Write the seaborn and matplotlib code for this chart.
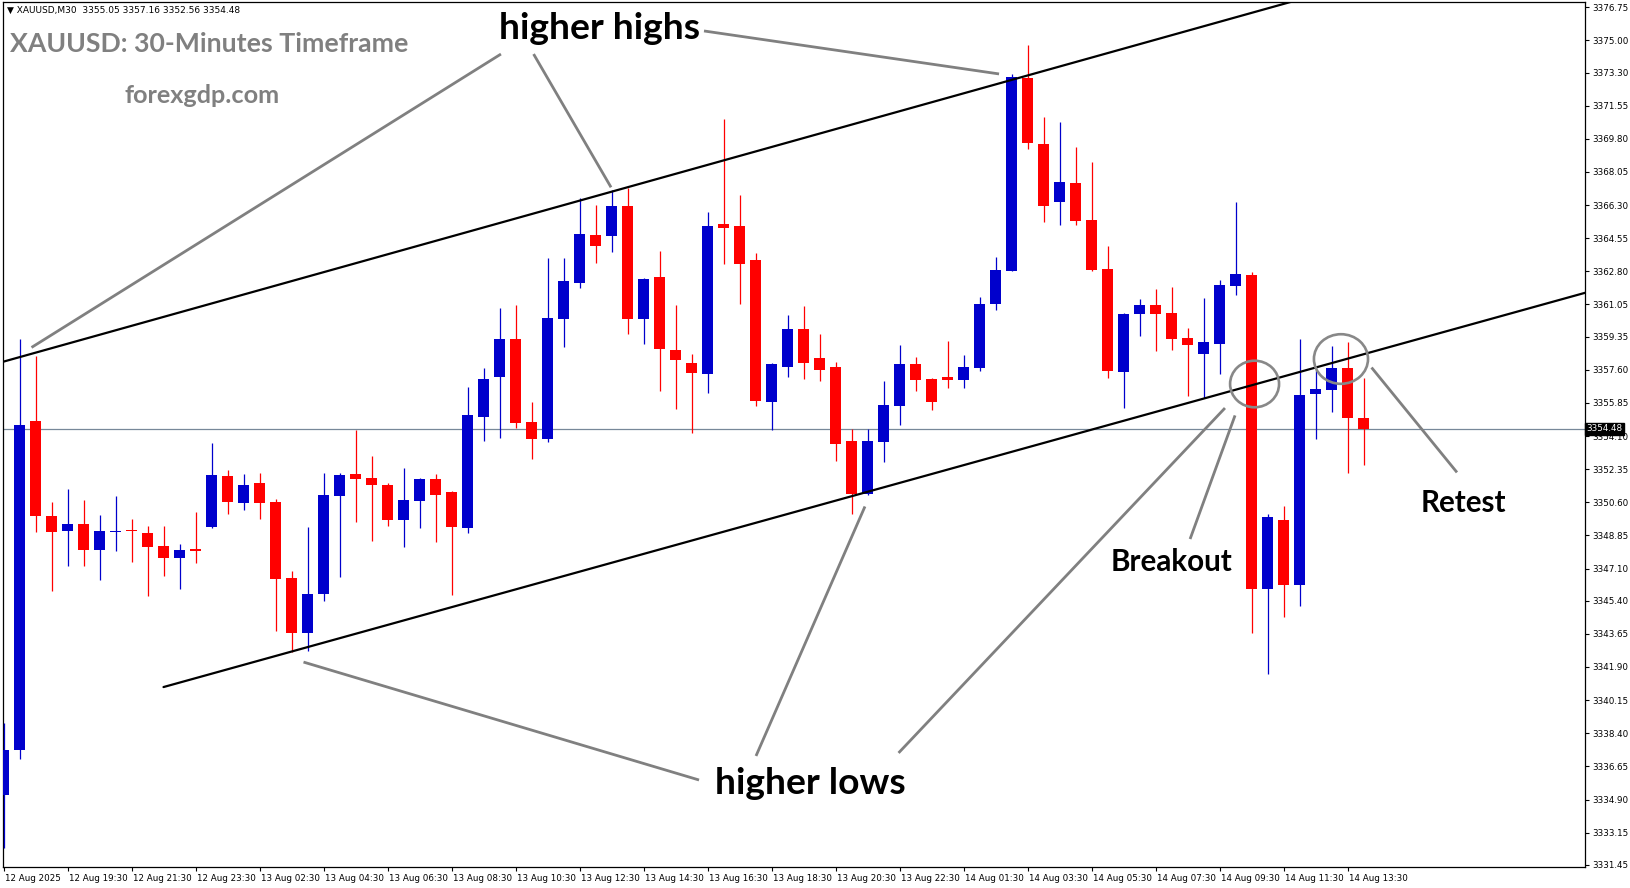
import numpy as np
import pandas as pd
import matplotlib
matplotlib.use("Agg")
import matplotlib.pyplot as plt
import matplotlib.transforms as mtransforms
from matplotlib.patches import Ellipse
import seaborn as sns

# ---------------- data (XAUUSD M30 candles) ----------------
opens = [3335.15, 3337.49, 3354.87, 3349.90, 3349.07, 3349.43, 3348.07, 3349.04, 3349.13, 3349.00,
         3348.27, 3347.64, 3348.10, 3349.32, 3351.97, 3350.55, 3351.60, 3350.64, 3346.62, 3343.68,
         3345.73, 3350.91, 3352.12, 3351.86, 3351.54, 3349.65, 3350.66, 3351.81, 3351.12, 3349.23,
         3355.10, 3357.22, 3359.21, 3354.82, 3353.94, 3360.28, 3362.19, 3364.71, 3364.67, 3366.24,
         3360.28, 3362.49, 3358.63, 3357.94, 3357.37, 3365.29, 3365.18, 3363.39, 3355.89, 3357.74,
         3359.74, 3358.20, 3357.73, 3353.82, 3351.03, 3353.78, 3355.68, 3357.90, 3357.11, 3357.20,
         3357.06, 3357.69, 3361.08, 3362.82, 3373.01, 3369.52, 3366.47, 3367.46, 3365.50, 3362.91,
         3357.48, 3360.55, 3361.01, 3360.59, 3359.28, 3358.43, 3358.96, 3362.01, 3362.59, 3346.00,
         3349.69, 3346.22, 3356.32, 3356.53, 3357.68, 3355.05]
highs = [3338.92, 3359.21, 3358.31, 3350.59, 3351.28, 3350.70, 3349.95, 3350.91, 3349.74, 3349.37,
         3349.37, 3348.42, 3350.11, 3353.71, 3352.33, 3352.12, 3352.17, 3350.80, 3346.99, 3349.32,
         3352.17, 3352.17, 3354.40, 3353.02, 3351.60, 3352.43, 3351.88, 3352.07, 3351.22, 3356.67,
         3357.68, 3360.85, 3361.01, 3355.88, 3363.49, 3363.49, 3366.65, 3366.28, 3367.09, 3367.19,
         3362.44, 3363.86, 3361.01, 3358.42, 3365.92, 3370.84, 3366.82, 3363.76, 3357.95, 3360.48,
         3360.95, 3359.48, 3358.01, 3354.47, 3354.47, 3357.00, 3358.91, 3358.27, 3357.16, 3359.10,
         3358.38, 3361.45, 3363.55, 3373.22, 3374.76, 3370.96, 3370.68, 3369.36, 3368.57, 3364.13,
         3360.60, 3361.34, 3361.87, 3361.98, 3359.81, 3361.39, 3362.33, 3366.45, 3362.75, 3349.97,
         3350.38, 3359.21, 3357.57, 3358.84, 3359.05, 3357.16]
lows = [3332.36, 3337.02, 3349.02, 3345.90, 3347.26, 3347.26, 3346.48, 3348.01, 3347.43, 3345.63,
        3346.73, 3346.00, 3347.38, 3349.23, 3349.97, 3350.18, 3349.71, 3343.78, 3342.67, 3342.73,
        3345.37, 3346.68, 3349.55, 3348.54, 3349.34, 3348.23, 3349.23, 3348.49, 3345.71, 3348.97,
        3353.83, 3353.99, 3354.52, 3352.88, 3353.78, 3358.80, 3361.92, 3363.25, 3363.83, 3359.49,
        3358.96, 3356.48, 3355.52, 3354.25, 3356.37, 3363.19, 3361.08, 3355.68, 3354.41, 3357.22,
        3357.11, 3357.00, 3352.77, 3349.97, 3350.98, 3352.72, 3354.68, 3356.48, 3355.47, 3356.63,
        3356.63, 3357.53, 3360.76, 3362.80, 3369.27, 3365.41, 3365.25, 3365.25, 3362.80, 3357.16,
        3355.58, 3359.38, 3358.59, 3358.64, 3356.21, 3356.11, 3357.37, 3361.55, 3343.68, 3341.51,
        3344.52, 3345.11, 3353.94, 3355.36, 3352.14, 3352.56]
closes = [3337.53, 3354.71, 3349.86, 3349.02, 3349.48, 3348.07, 3349.06, 3349.08, 3349.09, 3348.23,
          3347.64, 3348.10, 3348.05, 3352.02, 3350.61, 3351.49, 3350.55, 3346.53, 3343.68, 3345.78,
          3350.96, 3352.02, 3351.81, 3351.49, 3349.65, 3350.70, 3351.81, 3350.96, 3349.28, 3355.19,
          3357.09, 3359.21, 3354.78, 3353.94, 3360.32, 3362.28, 3364.76, 3364.14, 3366.24, 3360.28,
          3362.38, 3358.70, 3358.12, 3357.43, 3365.18, 3365.09, 3363.19, 3355.95, 3357.89, 3359.74,
          3357.96, 3357.58, 3353.67, 3351.03, 3353.82, 3355.72, 3357.90, 3357.06, 3355.89, 3357.06,
          3357.74, 3361.08, 3362.87, 3373.07, 3369.59, 3366.26, 3367.51, 3365.47, 3362.87, 3357.53,
          3360.53, 3361.01, 3360.55, 3359.23, 3358.91, 3359.07, 3362.06, 3362.65, 3346.00, 3349.80,
          3346.22, 3356.25, 3356.57, 3357.68, 3355.05, 3354.48]

x_tick_pos = [0, 4, 8, 12, 16, 20, 24, 28, 32, 36, 40, 44, 48, 52, 56, 60, 64, 68, 72, 76, 80, 84]
x_tick_labels = ["12 Aug 2025", "12 Aug 19:30", "12 Aug 21:30", "12 Aug 23:30", "13 Aug 02:30",
                 "13 Aug 04:30", "13 Aug 06:30", "13 Aug 08:30", "13 Aug 10:30", "13 Aug 12:30",
                 "13 Aug 14:30", "13 Aug 16:30", "13 Aug 18:30", "13 Aug 20:30", "13 Aug 22:30",
                 "14 Aug 01:30", "14 Aug 03:30", "14 Aug 05:30", "14 Aug 07:30", "14 Aug 09:30",
                 "14 Aug 11:30", "14 Aug 13:30"]
y_tick_values = [3376.75, 3375.00, 3373.30, 3371.55, 3369.80, 3368.05, 3366.30, 3364.55, 3362.80,
                 3361.05, 3359.35, 3357.60, 3355.85, 3354.10, 3352.35, 3350.60, 3348.85, 3347.10,
                 3345.40, 3343.65, 3341.90, 3340.15, 3338.40, 3336.65, 3334.90, 3333.15, 3331.45]
current_price = 3354.48
header = "XAUUSD,M30  3355.05 3357.16 3352.56 3354.48"

# channel trend lines (candle index, price)
upper_channel_x = [-0.05, 82.0]
upper_channel_y = [3358.02, 3377.40]
lower_channel_x = [10.0, 98.9]
lower_channel_y = [3340.84, 3361.68]

# annotation pointer segments: (x0, y0, x1, y1) in (candle index, price)
pointer_x0 = [31.09, 33.13, 43.78, 43.47, 47.03, 55.94, 74.16, 90.84]
pointer_y0 = [3374.28, 3374.28, 3375.50, 3335.93, 3337.20, 3337.36, 3348.66, 3352.18]
pointer_x1 = [1.75, 37.97, 62.22, 18.75, 53.84, 76.34, 76.97, 85.50]
pointer_y1 = [3358.78, 3367.24, 3373.23, 3342.16, 3350.38, 3355.58, 3355.19, 3357.72]

circle_x = [78.19, 83.59]
circle_y = [3356.85, 3358.17]
circle_w = [3.06, 3.38]
circle_h = [2.46, 2.62]

labels_text = ["higher highs", "higher lows", "Breakout", "Retest"]
labels_x = [37.28, 50.40, 73.00, 91.24]
labels_y = [3375.10, 3335.19, 3346.97, 3350.10]
labels_size = [26.8, 26.8, 21.3, 21.3]

# ---------------- styling ----------------
sns.set_theme(style="white")
plt.rcParams["font.family"] = ["DejaVu Sans"]

W, H = 1631, 888
fig = plt.figure(figsize=(W / 100, H / 100), dpi=100)
fig.patch.set_facecolor("white")
ax_l, ax_r, ax_t, ax_b = 2.7, 1585.3, 2.0, 866.7
ax = fig.add_axes([ax_l / W, 1 - ax_b / H, (ax_r - ax_l) / W, (ax_b - ax_t) / H])
ax.set_facecolor("white")

df = pd.DataFrame({"open": opens, "high": highs, "low": lows, "close": closes})
df["idx"] = np.arange(len(df))
df["up"] = df["close"] >= df["open"]
BLUE, RED = "#0000CC", "#FF0000"
df["color"] = np.where(df["up"], BLUE, RED)

# wicks
ax.vlines(df["idx"], df["low"], df["high"], colors=df["color"], linewidth=0.9, zorder=3)
# bodies
body_bottom = np.minimum(df["open"], df["close"])
body_h = np.maximum(np.abs(df["close"] - df["open"]), 0.06)
ax.bar(df["idx"], body_h, bottom=body_bottom, width=0.69, color=df["color"],
       linewidth=0, zorder=4)

# current price line
ax.axhline(current_price, color="#778899", linewidth=0.9, zorder=2)

# channel lines via seaborn
sns.lineplot(x=upper_channel_x, y=upper_channel_y, ax=ax, color="black", linewidth=1.6,
             zorder=5, sort=False)
sns.lineplot(x=lower_channel_x, y=lower_channel_y, ax=ax, color="black", linewidth=1.6,
             zorder=5, sort=False)

# pointer lines
for x0, y0, x1, y1 in zip(pointer_x0, pointer_y0, pointer_x1, pointer_y1):
    ax.plot([x0, x1], [y0, y1], color="#808080", linewidth=2.0, zorder=6,
            solid_capstyle="butt")

for cx, cy, cw, ch in zip(circle_x, circle_y, circle_w, circle_h):
    ax.add_patch(Ellipse((cx, cy), cw, ch, fill=False, edgecolor="#888888",
                         linewidth=1.9, zorder=6))

for t, x, y, s in zip(labels_text, labels_x, labels_y, labels_size):
    ax.text(x, y, t, ha="center", va="baseline", fontsize=s, fontweight="bold",
            family="Lato", color="black", zorder=7)

ax.text(0.43, 3374.39, "XAUUSD: 30-Minutes Timeframe", ha="left", va="baseline",
        fontsize=19.2, fontweight="bold", family="Lato", color="#808080", zorder=7)
ax.text(12.39, 3371.69, "forexgdp.com", ha="center", va="baseline",
        fontsize=18.2, fontweight="bold", family="Lato", color="#808080", zorder=7)
ax.text(0.2, 3376.58, "\u25BC " + header, ha="left", va="center", fontsize=6.5,
        color="black", zorder=7)

# axes limits
ax.set_xlim(-0.05, 98.86)
ax.set_ylim(3331.35, 3377.03)

# ticks
ax.yaxis.tick_right()
ax.set_yticks(y_tick_values)
ax.set_yticklabels([f"{v:.2f}" for v in y_tick_values], fontsize=6.3)
ax.set_xticks(x_tick_pos)
ax.set_xticklabels(x_tick_labels, fontsize=6.3, ha="left")
ax.tick_params(axis="y", which="major", direction="out", length=3, width=0.8, pad=2,
               colors="black", right=True, left=False)
ax.tick_params(axis="x", which="major", direction="out", length=3, width=0.8, pad=2,
               colors="black", bottom=True)
for lbl in ax.get_xticklabels():
    lbl.set_transform(lbl.get_transform() + mtransforms.ScaledTranslation(1 / 100, 0, fig.dpi_scale_trans))
ax.set_xlabel("")
ax.set_ylabel("")
ax.grid(False)
for sp in ax.spines.values():
    sp.set_visible(True)
    sp.set_color("black")
    sp.set_linewidth(0.9)

# current price box on the axis
trans = mtransforms.blended_transform_factory(ax.transAxes, ax.transData)
ax.text(1.0008, current_price, f"{current_price:.2f}", transform=trans, ha="left",
        va="center", fontsize=6.3, color="white", zorder=10, clip_on=False,
        bbox=dict(boxstyle="square,pad=0.15", facecolor="black", edgecolor="black"))

fig.savefig("out.png", dpi=100, facecolor="white")
